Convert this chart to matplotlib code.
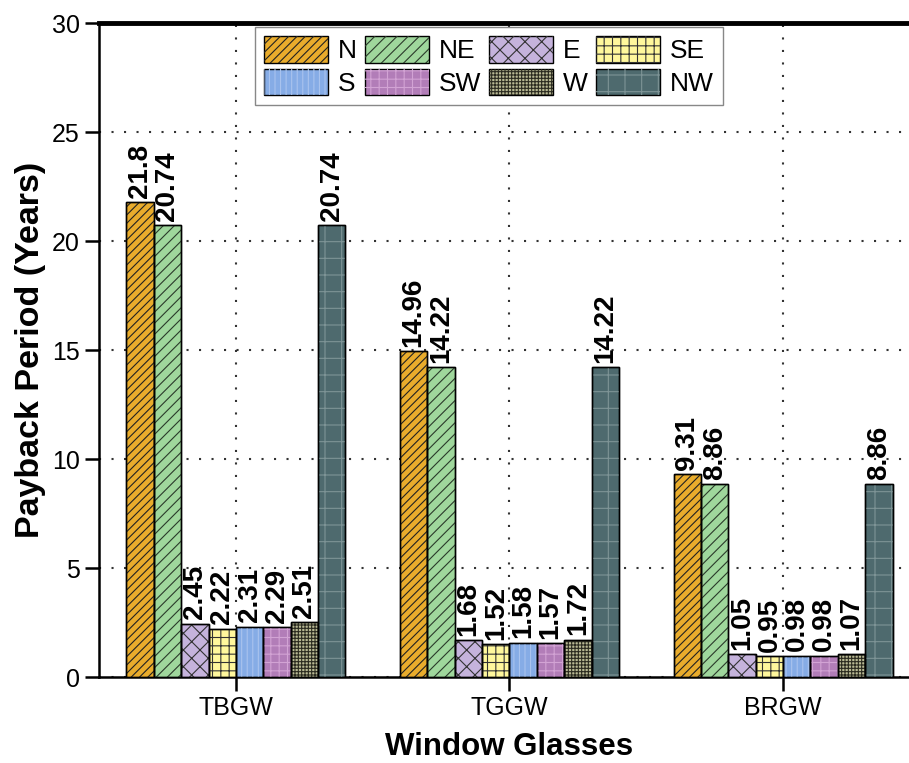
import numpy as np
import matplotlib
matplotlib.use("Agg")
import matplotlib.pyplot as plt

plt.rcParams['font.family'] = ['Liberation Sans', 'DejaVu Sans']
plt.rcParams['hatch.linewidth'] = 0.8

glasses = ['TBGW', 'TGGW', 'BRGW']
orientations = ['N', 'NE', 'E', 'SE', 'S', 'SW', 'W', 'NW']

payback = {
    'N':  [21.8, 14.96, 9.31],
    'NE': [20.74, 14.22, 8.86],
    'E':  [2.45, 1.68, 1.05],
    'SE': [2.22, 1.52, 0.95],
    'S':  [2.31, 1.58, 0.98],
    'SW': [2.29, 1.57, 0.98],
    'W':  [2.51, 1.72, 1.07],
    'NW': [20.74, 14.22, 8.86],
}

# fill colour, hatch pattern, hatch colour
styles = {
    'N':  ('#E9AC2C', '////', '#222222'),
    'NE': ('#9FD79C', '///', '#2a3a2a'),
    'E':  ('#C5B3DC', 'xx', '#333333'),
    'SE': ('#FFF79C', '++', '#333333'),
    'S':  ('#86ACE6', '|||', '#A9C3EE'),
    'SW': ('#B27DB8', '++', '#D2A3D4'),
    'W':  ('#B9B994', '+++++', '#2b2b20'),
    'NW': ('#4E6A6E', '+', '#7E9496'),
}

fig = plt.figure(figsize=(9.09, 7.63), dpi=100)
ax = fig.add_axes([0.109, 0.1127, 0.903, 0.857])

x = np.arange(1, len(glasses) + 1)
width = 0.1
handles = {}
for i, o in enumerate(orientations):
    fc, hatch, hc = styles[o]
    pos = x + (i - 3.5) * width
    vals = payback[o]
    b1 = ax.bar(pos, vals, width, color=fc, edgecolor='black', linewidth=1.0, zorder=3)
    b2 = ax.bar(pos, vals, width, fill=False, hatch=hatch, edgecolor=hc, linewidth=0, zorder=3)
    ax.bar(pos, vals, width, fill=False, edgecolor='black', linewidth=1.0, zorder=4)
    handles[o] = (b1.patches[0], b2.patches[0])
    for p, v in zip(pos, vals):
        ax.annotate(f'{v:g}', (p, v), xytext=(0, 3), textcoords='offset points',
                    rotation=90, ha='center', va='bottom',
                    fontsize=20, fontweight='bold', zorder=5)

ax.set_xlim(0.5, 3.5)
ax.set_ylim(0, 30)
ax.set_yticks(np.arange(0, 31, 5))
ax.set_xticks(x)
ax.set_xticklabels(glasses)
ax.tick_params(axis='both', direction='out', length=10, width=1.8, labelsize=18, pad=4)
ax.grid(True, linestyle=(0, (1, 5)), color='#333333', linewidth=1.5, zorder=0)

for side in ['left', 'bottom']:
    ax.spines[side].set_linewidth(1.8)
ax.spines['top'].set_linewidth(3.5)
ax.spines['right'].set_visible(False)

ax.set_ylabel('Payback Period (Years)', fontsize=24.5, fontweight='bold', labelpad=4)
ax.set_xlabel('Window Glasses', fontsize=22.5, fontweight='bold', labelpad=8)

# column-major ordering so rows read N..SE and S..NW
order = ['N', 'S', 'NE', 'SW', 'E', 'W', 'SE', 'NW']
leg = ax.legend([handles[o] for o in order], order, ncol=4, loc='upper center',
                bbox_to_anchor=(0.475, 0.998), fontsize=19, handlelength=2.42,
                handleheight=1.17, handletextpad=0.38, columnspacing=0.3,
                labelspacing=0.2, borderpad=0.35, borderaxespad=0.1,
                fancybox=False, framealpha=1, edgecolor='#888888')
leg.set_zorder(10)

fig.savefig('out.png', dpi=100)
